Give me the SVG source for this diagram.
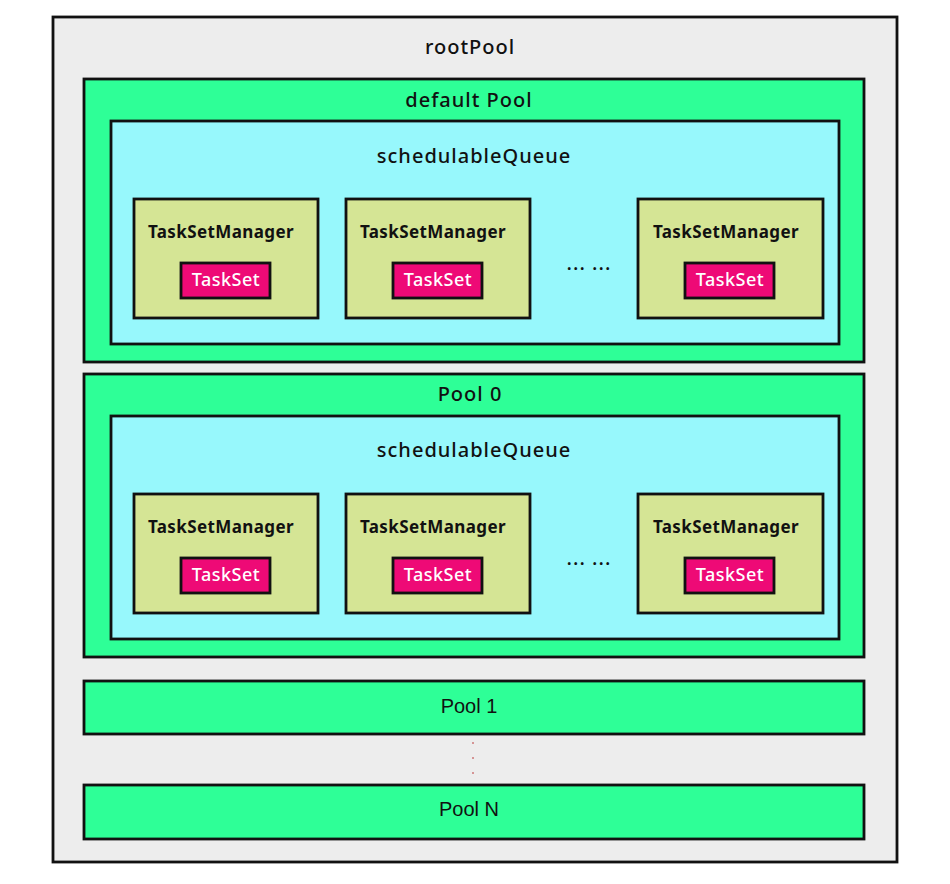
<svg xmlns="http://www.w3.org/2000/svg" width="950" height="884" viewBox="0 0 950 884">
<style>
.root{fill:#ededed;stroke:#111;stroke-width:2.8}
.pool{fill:#2eff97;stroke:#111;stroke-width:2.8}
.queue{fill:#97f8fc;stroke:#111;stroke-width:2.8}
.tsm{fill:#d5e595;stroke:#111;stroke-width:2.8}
.ts{fill:#ee0a76;stroke:#111;stroke-width:2.8}
.t{font-family:"Noto Sans","DejaVu Sans",sans-serif;font-size:20px;font-weight:500;letter-spacing:1px;fill:#111;text-anchor:middle;dominant-baseline:central}
.tb{font-family:"Noto Sans","DejaVu Sans",sans-serif;font-size:17px;font-weight:bold;letter-spacing:0.4px;fill:#111;text-anchor:middle;dominant-baseline:central}
.tw{font-family:"Noto Sans","DejaVu Sans",sans-serif;font-size:18px;font-weight:500;letter-spacing:0.5px;fill:#fff;text-anchor:middle;dominant-baseline:central}
.ta{font-family:"Liberation Sans",Arial,sans-serif;font-size:20px;fill:#111;text-anchor:middle;dominant-baseline:central}
.dot{fill:#c77}
</style>
<g id="rootPool">
<rect class="root" x="53" y="17" width="844" height="845"/>
<text class="t" x="470" y="46">rootPool</text>
</g>
<g id="defaultPool">
<rect class="pool" x="84" y="79" width="780" height="283"/>
<text class="t" x="469" y="99">default Pool</text>
<g id="defaultQueue">
<rect class="queue" x="111" y="121" width="728" height="223"/>
<text class="t" x="474" y="155">schedulableQueue</text>
</g>
<g id="dTSM1">
<rect class="tsm" x="134" y="199" width="184" height="119"/>
<text class="tb" x="221" y="231">TaskSetManager</text>
<rect class="ts" x="181" y="263" width="89" height="35"/>
<text class="tw" x="226" y="279">TaskSet</text>
</g>
<g id="dTSM2">
<rect class="tsm" x="346" y="199" width="184" height="119"/>
<text class="tb" x="433" y="231">TaskSetManager</text>
<rect class="ts" x="393" y="263" width="89" height="35"/>
<text class="tw" x="438" y="279">TaskSet</text>
</g>
<text class="t" x="589" y="262">... ...</text>
<g id="dTSM3">
<rect class="tsm" x="638" y="199" width="185" height="119"/>
<text class="tb" x="726" y="231">TaskSetManager</text>
<rect class="ts" x="685" y="263" width="89" height="35"/>
<text class="tw" x="730" y="279">TaskSet</text>
</g>
</g>
<g id="pool0">
<rect class="pool" x="84" y="374" width="780" height="283"/>
<text class="t" x="470" y="393">Pool 0</text>
<g id="pool0Queue">
<rect class="queue" x="111" y="416" width="728" height="223"/>
<text class="t" x="474" y="449">schedulableQueue</text>
</g>
<g id="pTSM1">
<rect class="tsm" x="134" y="494" width="184" height="119"/>
<text class="tb" x="221" y="526">TaskSetManager</text>
<rect class="ts" x="181" y="558" width="89" height="35"/>
<text class="tw" x="226" y="574">TaskSet</text>
</g>
<g id="pTSM2">
<rect class="tsm" x="346" y="494" width="184" height="119"/>
<text class="tb" x="433" y="526">TaskSetManager</text>
<rect class="ts" x="393" y="558" width="89" height="35"/>
<text class="tw" x="438" y="574">TaskSet</text>
</g>
<text class="t" x="589" y="557">... ...</text>
<g id="pTSM3">
<rect class="tsm" x="638" y="494" width="185" height="119"/>
<text class="tb" x="726" y="526">TaskSetManager</text>
<rect class="ts" x="685" y="558" width="89" height="35"/>
<text class="tw" x="730" y="574">TaskSet</text>
</g>
</g>
<g id="pool1">
<rect class="pool" x="84" y="681" width="780" height="53"/>
<text class="ta" x="469" y="706">Pool 1</text>
</g>
<g id="ellipsis">
<circle class="dot" cx="473" cy="743" r="1"/>
<circle class="dot" cx="473" cy="758" r="1"/>
<circle class="dot" cx="473" cy="773" r="1"/>
</g>
<g id="poolN">
<rect class="pool" x="84" y="785" width="780" height="54"/>
<text class="ta" x="469" y="809">Pool N</text>
</g>
<g id="connectors"/>
</svg>
